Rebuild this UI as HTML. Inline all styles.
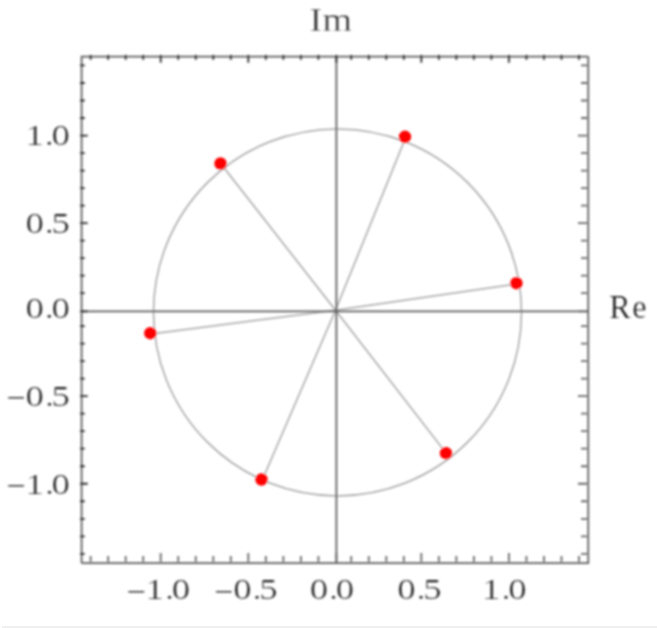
<!DOCTYPE html>
<html lang="en"><head><meta charset="utf-8"><title>Roots in the complex plane</title>
<style>
html,body{margin:0;padding:0;background:#fff;}
body{width:657px;height:628px;overflow:hidden;}
svg{display:block;}
text{font-family:"Liberation Serif","DejaVu Serif",serif;fill:#1c1c1c;}
.tick{font-size:30.2px;stroke:#fff;stroke-width:0.2px;}
.lab{font-size:34.4px;stroke:#fff;stroke-width:0.15px;}
</style></head><body>
<svg width="657" height="628" viewBox="0 0 657 628">
<defs><filter id="soft" x="-5%" y="-5%" width="110%" height="110%"><feGaussianBlur stdDeviation="0.85"/></filter></defs>
<rect x="0" y="0" width="657" height="628" fill="#ffffff"/>
<rect x="2" y="626" width="655" height="2" fill="#f0f0f0"/>
<g filter="url(#soft)">
<g fill="none" stroke="#a6a6a6" stroke-width="1.5"><ellipse cx="337.5" cy="312.4" rx="184" ry="183.5"/><path d="M335.5 310.3L405.7 137.5M335.5 310.3L517.1 283.9M335.5 310.3L446.7 453.9M335.5 310.3L262.2 480.2M335.5 310.3L151 333.9M335.5 310.3L221.2 164.2"/></g>
<g fill="none" stroke="#5c5c5c" stroke-width="1.75"><path d="M81.6 311.4H588.25M336.4 56.5V563.15"/></g>
<g fill="none" stroke="#5c5c5c" stroke-width="1.75"><path d="M81.6 563.15V56.5H588.25"/></g>
<g fill="none" stroke="#5c5c5c" stroke-width="1.75"><path d="M81.6 563.15H588.25V56.5"/></g>
<g fill="none" stroke="#2c2c2c" stroke-width="1.8"><path d="M90.64 55.1v4.6M80.2 553.83h4.5M108.16 55.1v4.6M80.2 536.31h4.5M125.68 55.1v4.6M80.2 518.79h4.5M143.2 55.1v4.6M80.2 501.27h4.5M160.72 55.1v7.6M80.2 483.75h7.5M178.24 55.1v4.6M80.2 466.23h4.5M195.76 55.1v4.6M80.2 448.71h4.5M213.28 55.1v4.6M80.2 431.19h4.5M230.8 55.1v4.6M80.2 413.67h4.5M248.32 55.1v7.6M80.2 396.15h7.5M265.84 55.1v4.6M80.2 378.63h4.5M283.36 55.1v4.6M80.2 361.11h4.5M300.88 55.1v4.6M80.2 343.59h4.5M318.4 55.1v4.6M80.2 326.07h4.5M336.4 55.1v7.6M80.2 311.4h7.5M351.25 55.1v4.6M80.2 293.22h4.5M368.77 55.1v4.6M80.2 275.7h4.5M386.29 55.1v4.6M80.2 258.18h4.5M403.81 55.1v4.6M80.2 240.66h4.5M421.33 55.1v7.6M80.2 223.14h7.5M438.85 55.1v4.6M80.2 205.62h4.5M456.37 55.1v4.6M80.2 188.1h4.5M473.89 55.1v4.6M80.2 170.58h4.5M491.41 55.1v4.6M80.2 153.06h4.5M508.93 55.1v7.6M80.2 135.54h7.5M526.45 55.1v4.6M80.2 118.02h4.5M543.97 55.1v4.6M80.2 100.5h4.5M561.49 55.1v4.6M80.2 82.98h4.5M579.01 55.1v4.6M80.2 65.46h4.5"/></g>
<g fill="none" stroke="#666666" stroke-width="1.8"><path d="M90.64 561.85v-5.75M586.95 553.83h-5.9M108.16 561.85v-5.75M586.95 536.31h-5.9M125.68 561.85v-5.75M586.95 518.79h-5.9M143.2 561.85v-5.75M586.95 501.27h-5.9M160.72 561.85v-8.75M586.95 483.75h-9M178.24 561.85v-5.75M586.95 466.23h-5.9M195.76 561.85v-5.75M586.95 448.71h-5.9M213.28 561.85v-5.75M586.95 431.19h-5.9M230.8 561.85v-5.75M586.95 413.67h-5.9M248.32 561.85v-8.75M586.95 396.15h-9M265.84 561.85v-5.75M586.95 378.63h-5.9M283.36 561.85v-5.75M586.95 361.11h-5.9M300.88 561.85v-5.75M586.95 343.59h-5.9M318.4 561.85v-5.75M586.95 326.07h-5.9M336.4 561.85v-8.75M586.95 311.4h-9M351.25 561.85v-5.75M586.95 293.22h-5.9M368.77 561.85v-5.75M586.95 275.7h-5.9M386.29 561.85v-5.75M586.95 258.18h-5.9M403.81 561.85v-5.75M586.95 240.66h-5.9M421.33 561.85v-8.75M586.95 223.14h-9M438.85 561.85v-5.75M586.95 205.62h-5.9M456.37 561.85v-5.75M586.95 188.1h-5.9M473.89 561.85v-5.75M586.95 170.58h-5.9M491.41 561.85v-5.75M586.95 153.06h-5.9M508.93 561.85v-8.75M586.95 135.54h-9M526.45 561.85v-5.75M586.95 118.02h-5.9M543.97 561.85v-5.75M586.95 100.5h-5.9M561.49 561.85v-5.75M586.95 82.98h-5.9M579.01 561.85v-5.75M586.95 65.46h-5.9"/></g>
<g fill="#ff0000"><circle cx="405" cy="136.8" r="6.2"/><circle cx="516.4" cy="283.2" r="6.2"/><circle cx="446" cy="453.2" r="6.2"/><circle cx="261.5" cy="479.5" r="6.2"/><circle cx="150.3" cy="333.2" r="6.2"/><circle cx="220.5" cy="163.5" r="6.2"/></g>
</g>
<g filter="url(#soft)">
<text class="tick" transform="translate(25.4 145) scale(1.22 1)"><tspan x="0">1</tspan><tspan x="16.17" font-size="28">.</tspan><tspan x="21.46">0</tspan></text>
<text class="tick" transform="translate(25.6 232.9) scale(1.22 1)"><tspan x="0">0</tspan><tspan x="16.01" font-size="28">.</tspan><tspan x="21.29">5</tspan></text>
<text class="tick" transform="translate(25.6 318.1) scale(1.22 1)"><tspan x="0">0</tspan><tspan x="16.01" font-size="28">.</tspan><tspan x="21.29">0</tspan></text>
<text class="tick" transform="translate(6.8 405.7) scale(1.22 1)"><tspan x="0" dy="1.3" font-size="27.6" stroke="none">−</tspan><tspan x="15.41" dy="-1.3">0</tspan><tspan x="31.42" font-size="28">.</tspan><tspan x="36.7">5</tspan></text>
<text class="tick" transform="translate(6.8 493.7) scale(1.22 1)"><tspan x="0" dy="1.3" font-size="27.6" stroke="none">−</tspan><tspan x="15.25" dy="-1.3">1</tspan><tspan x="31.42" font-size="28">.</tspan><tspan x="36.7">0</tspan></text>
<text class="tick" transform="translate(126.9 598.9) scale(1.22 1)"><tspan x="0" dy="2.1" font-size="27.6" stroke="none">−</tspan><tspan x="15.25" dy="-2.1">1</tspan><tspan x="31.42" font-size="28">.</tspan><tspan x="36.7">0</tspan></text>
<text class="tick" transform="translate(214.4 598.9) scale(1.22 1)"><tspan x="0" dy="2.1" font-size="27.6" stroke="none">−</tspan><tspan x="15.41" dy="-2.1">0</tspan><tspan x="31.42" font-size="28">.</tspan><tspan x="36.7">5</tspan></text>
<text class="tick" transform="translate(309.7 598.9) scale(1.22 1)"><tspan x="0">0</tspan><tspan x="16.01" font-size="28">.</tspan><tspan x="21.29">0</tspan></text>
<text class="tick" transform="translate(397.2 598.9) scale(1.22 1)"><tspan x="0">0</tspan><tspan x="16.01" font-size="28">.</tspan><tspan x="21.29">5</tspan></text>
<text class="tick" transform="translate(482 598.9) scale(1.22 1)"><tspan x="0">1</tspan><tspan x="16.17" font-size="28">.</tspan><tspan x="21.46">0</tspan></text>
<text class="lab" style="stroke-width:0.3px" transform="translate(309.6 30.9) scale(1.1 1)" x="0 11.8">Im</text>
<text class="lab" style="font-size:33.8px" transform="translate(609.2 318.4) scale(0.95 1)" x="0 24.2">Re</text>
</g>
</svg>
</body></html>
